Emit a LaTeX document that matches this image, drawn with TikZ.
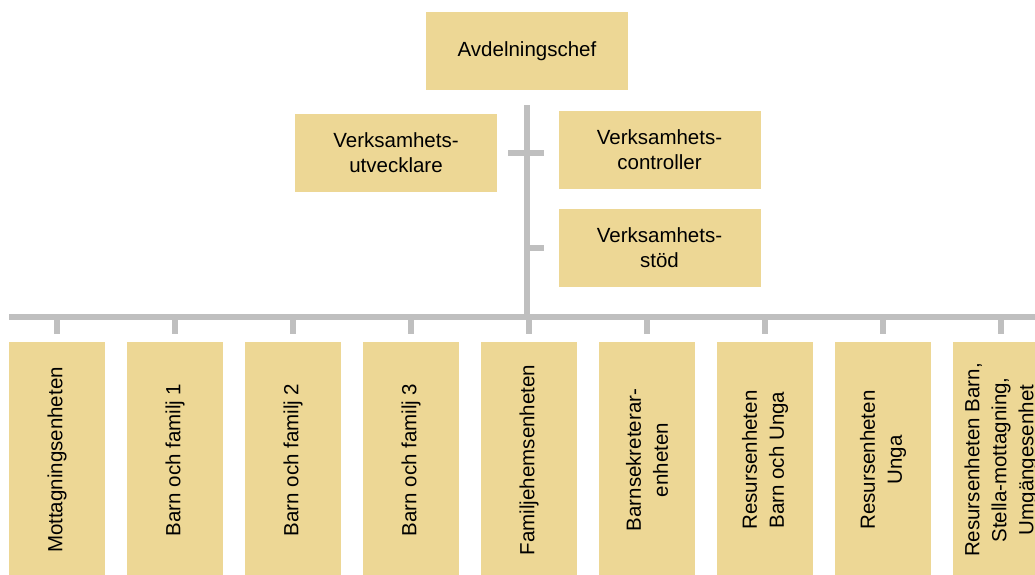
\documentclass[tikz,border=0pt]{standalone}
\usepackage{fontspec}
\setmainfont{Liberation Sans}
\definecolor{unitfill}{HTML}{EDD795}
\definecolor{linegray}{HTML}{BFBFBF}

\begin{document}
\begin{tikzpicture}[
		every node/.style={rectangle, fill=unitfill, inner sep=0pt, align=center, font=\fontsize{20.5}{25}\selectfont},
		staffbox/.style={minimum width=202pt, minimum height=78pt},
		unitbox/.style={rotate=90, minimum width=236pt, minimum height=96pt, font=\fontsize{20.5}{27}\selectfont},
		orgline/.style={draw=linegray, line width=6pt}
	]
  \useasboundingbox (0pt, 0pt) rectangle (1035pt, -574pt);
  \clip (0pt, 0pt) rectangle (1035pt, -574pt);
  \fill [white] (0pt, 0pt) rectangle (1035pt, -574pt);
  % ledning och stab
  \node (chef) [staffbox] at (527pt, -51pt) {Avdelningschef};
  \node (utv) [staffbox] at (396pt, -153pt) {Verksamhets-\\utvecklare};
  \node (ctrl) [staffbox] at (659.5pt, -150pt) {Verksamhets-\\controller};
  \node (stod) [staffbox] at (659.5pt, -247.5pt) {Verksamhets-\\stöd};
  \coordinate (trunk_top) at (527pt, -105pt);
  \coordinate (bus_c) at (527pt, -317pt);
  \coordinate (bus_l) at (9pt, -317pt);
  \coordinate (bus_r) at (1045pt, -317pt);
  % enheter
  \node (mott) [unitbox] at (57pt, -460pt) {Mottagningsenheten};
  \node (bof1) [unitbox] at (175pt, -460pt) {Barn och familj 1};
  \node (bof2) [unitbox] at (293pt, -460pt) {Barn och familj 2};
  \node (bof3) [unitbox] at (411pt, -460pt) {Barn och familj 3};
  \node (famhem) [unitbox] at (529pt, -460pt) {Familjehemsenheten};
  \node (barnsekr) [unitbox] at (647pt, -460pt) {Barnsekreterar-\\enheten};
  \node (res_bu) [unitbox] at (765pt, -460pt) {Resursenheten\\Barn och Unga};
  \node (res_u) [unitbox] at (883pt, -460pt) {Resursenheten\\Unga};
  \node (res_b) [unitbox] at (1001pt, -460pt) {Resursenheten Barn,\\Stella-mottagning,\\Umgängesenhet};
  % linjer
  \draw [orgline] (trunk_top) -- (bus_c);
  \draw [orgline] ([xshift=11pt]utv.east) -- ([xshift=-14pt]utv.east -| ctrl.west);
  \draw [orgline] (stod.west -| trunk_top) -- ([xshift=-14pt]stod.west);
  \draw [orgline] (bus_l) -- (bus_r);
  \draw [orgline] (mott.east |- bus_c) -- ([yshift=8pt]mott.east);
  \draw [orgline] (bof1.east |- bus_c) -- ([yshift=8pt]bof1.east);
  \draw [orgline] (bof2.east |- bus_c) -- ([yshift=8pt]bof2.east);
  \draw [orgline] (bof3.east |- bus_c) -- ([yshift=8pt]bof3.east);
  \draw [orgline] (famhem.east |- bus_c) -- ([yshift=8pt]famhem.east);
  \draw [orgline] (barnsekr.east |- bus_c) -- ([yshift=8pt]barnsekr.east);
  \draw [orgline] (res_bu.east |- bus_c) -- ([yshift=8pt]res_bu.east);
  \draw [orgline] (res_u.east |- bus_c) -- ([yshift=8pt]res_u.east);
  \draw [orgline] (res_b.east |- bus_c) -- ([yshift=8pt]res_b.east);
\end{tikzpicture}
\end{document}
